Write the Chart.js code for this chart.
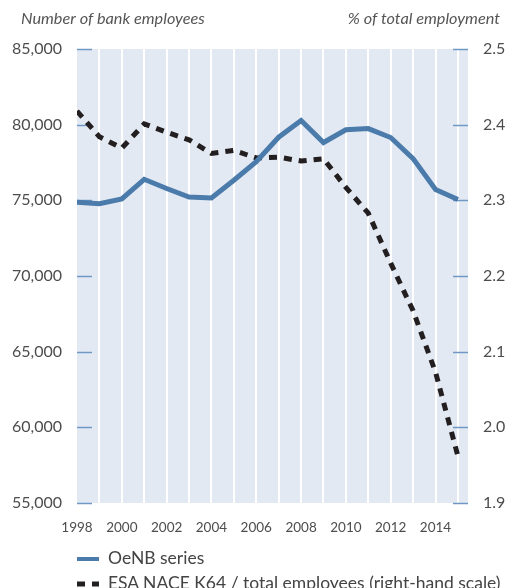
<!DOCTYPE html>
<html>
<head>
<meta charset="utf-8">
<script src="https://cdn.jsdelivr.net/npm/chart.js@4"></script>
<style>
    html, body { margin: 0; padding: 0; background: #fff; }
    #wrap { position: relative; width: 506px; height: 588px; overflow: hidden; }
    #legend { position: absolute; left: 77px; top: 545px; font-family: Lato, "Open Sans", sans-serif; font-size: 17.5px; color: #444; }
    #legend .item { height: 25px; line-height: 25px; white-space: nowrap; }
    #legend svg { vertical-align: middle; margin-right: 9px; position: relative; top: -1px; }
</style>
</head>
<body>
<div id="wrap">
    <canvas id="employment_chart" width="506" height="588"></canvas>
    <div id="legend">
        <div class="item"><svg width="22" height="6"><line x1="0" y1="3" x2="22" y2="3" stroke="#4a7bab" stroke-width="4"/></svg>OeNB series</div>
        <div class="item"><svg width="22" height="6"><line x1="0" y1="3" x2="24" y2="3" stroke="#231f20" stroke-width="5" stroke-dasharray="8,7"/></svg>ESA NACE K64 / total employees (right-hand scale)</div>
    </div>
</div>
<script>
// Data
var years = [1998, 1999, 2000, 2001, 2002, 2003, 2004, 2005, 2006, 2007, 2008, 2009, 2010, 2011, 2012, 2013, 2014, 2015];
var oenb_series = [74870, 74780, 75090, 76390, 75780, 75220, 75160, 76330, 77560, 79170, 80270, 78820, 79660, 79740, 79150, 77760, 75710, 75050];
var esa_share = [2.418, 2.384, 2.369, 2.401, 2.390, 2.380, 2.362, 2.366, 2.356, 2.357, 2.352, 2.355, 2.317, 2.283, 2.217, 2.154, 2.073, 1.962];
var left_ticks = [55000, 60000, 65000, 70000, 75000, 80000, 85000];
var right_ticks = [1.9, 2.0, 2.1, 2.2, 2.3, 2.4, 2.5];

var text_color = "#4d4d4d";
var font_family = "Lato, 'Open Sans', sans-serif";

function to_points(values) {
    return values.map(function (v, i) { return { x: years[i], y: v }; });
}

// Background, inner tick marks and axis titles
var decor_plugin = {
    id: "decor",
    beforeDraw: function (chart) {
        var a = chart.chartArea;
        var ctx = chart.ctx;
        ctx.save();
        ctx.fillStyle = "#e3e9f2";
        ctx.fillRect(a.left, a.top, a.right - a.left, a.bottom - a.top);
        ctx.restore();
    },
    beforeDatasetsDraw: function (chart) {
        var a = chart.chartArea;
        var ctx = chart.ctx;
        ctx.save();
        ctx.strokeStyle = "#6f98c4";
        ctx.lineWidth = 1.5;
        left_ticks.forEach(function (t) {
            var y = Math.round(chart.scales.y.getPixelForValue(t)) + 0.5;
            ctx.beginPath();
            ctx.moveTo(a.left, y);
            ctx.lineTo(a.left + 15, y);
            ctx.stroke();
        });
        right_ticks.forEach(function (t) {
            var y = Math.round(chart.scales.y2.getPixelForValue(t)) + 0.5;
            ctx.beginPath();
            ctx.moveTo(a.right - 15, y);
            ctx.lineTo(a.right, y);
            ctx.stroke();
        });
        ctx.restore();
    },
    afterDraw: function (chart) {
        var ctx = chart.ctx;
        ctx.save();
        ctx.fillStyle = "#555";
        ctx.font = "italic 16.3px " + font_family;
        ctx.textBaseline = "middle";
        ctx.textAlign = "left";
        ctx.fillText("Number of bank employees", 21, 19);
        ctx.textAlign = "right";
        ctx.fillText("% of total employment", 500, 19);
        ctx.restore();
    }
};

function init_chart() {
    var ctx = document.getElementById("employment_chart").getContext("2d");

    var data = {
        datasets: [{
            label: "OeNB series",
            data: to_points(oenb_series),
            yAxisID: "y",
            borderColor: "#4a7bab",
            borderWidth: 5,
            pointRadius: 0,
            tension: 0,
            borderJoinStyle: "miter"
        }, {
            label: "ESA NACE K64 / total employees (right-hand scale)",
            data: to_points(esa_share),
            yAxisID: "y2",
            borderColor: "#231f20",
            borderWidth: 5,
            borderDash: [8, 7],
            pointRadius: 0,
            tension: 0
        }]
    };

    var tick_font = { family: font_family, size: 16 };

    var options = {
        responsive: false,
        devicePixelRatio: 1,
        animation: false,
        layout: { padding: { top: 49, left: 0, right: 0, bottom: 0 } },
        plugins: {
            legend: { display: false },
            tooltip: { enabled: false }
        },
        scales: {
            x: {
                type: "linear",
                min: 1998,
                max: 2015.45,
                border: { display: false },
                grid: {
                    drawTicks: false,
                    lineWidth: 2,
                    color: function (c) { return c.tick && c.tick.value === 1998 ? "rgba(0,0,0,0)" : "#ffffff"; }
                },
                ticks: {
                    stepSize: 1,
                    includeBounds: false,
                    autoSkip: false,
                    maxRotation: 0,
                    padding: 17,
                    color: text_color,
                    font: { family: font_family, size: 13.5 },
                    callback: function (v) { return v % 2 === 0 ? String(v) : ""; }
                },
                afterFit: function (scale) { scale.height = 85; }
            },
            y: {
                position: "left",
                min: 55000,
                max: 85000,
                border: { display: false },
                grid: { display: false, drawTicks: false },
                ticks: {
                    stepSize: 5000,
                    padding: 15,
                    color: text_color,
                    font: tick_font,
                    callback: function (v) { return v.toLocaleString("en-US"); }
                },
                afterFit: function (scale) { scale.width = 77; }
            },
            y2: {
                position: "right",
                min: 1.9,
                max: 2.5,
                border: { display: false },
                grid: { display: false, drawTicks: false },
                ticks: {
                    stepSize: 0.1,
                    padding: 15,
                    color: text_color,
                    font: tick_font,
                    callback: function (v) { return v.toFixed(1); }
                },
                afterFit: function (scale) { scale.width = 38; }
            }
        }
    };

    new Chart(ctx, {
        type: "line",
        data: data,
        options: options,
        plugins: [decor_plugin]
    });
}

init_chart();
</script>
</body>
</html>
